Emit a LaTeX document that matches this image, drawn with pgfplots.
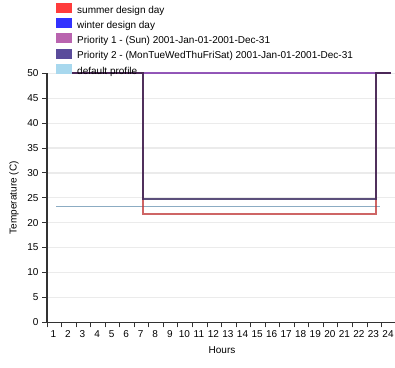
\documentclass[border=0pt]{standalone}
\usepackage{pgfplots}
\pgfplotsset{compat=1.18}
\usepackage{fontspec}
\setmainfont{Liberation Sans}

\definecolor{legred}{RGB}{255,60,60}
\definecolor{legblue}{RGB}{50,50,255}
\definecolor{legpink}{RGB}{185,100,175}
\definecolor{legdark}{RGB}{90,75,155}
\definecolor{leglight}{RGB}{168,216,238}
\definecolor{linered}{RGB}{190,50,50}
\definecolor{lineblue}{RGB}{30,30,200}
\definecolor{linepink}{RGB}{160,60,160}
\definecolor{linedark}{RGB}{50,35,90}
\definecolor{linelight}{RGB}{140,172,195}
\definecolor{gridgray}{RGB}{235,235,235}
\definecolor{axisgray}{RGB}{50,50,50}

\begin{document}
\begin{tikzpicture}
\path[use as bounding box] (0,0) rectangle (395pt,367pt);
\begin{axis}[
    at={(47pt,44.7pt)}, anchor=south west,
    scale only axis,
    width=348pt, height=249pt,
    xmin=0.38, xmax=24.3,
    ymin=0, ymax=50,
    axis x line=bottom, axis y line=left,
    axis line style={-, axisgray, line width=1.3pt},
    xtick={0.38,1.38,...,23.38},
    xticklabels={1,2,3,4,5,6,7,8,9,10,11,12,13,14,15,16,17,18,19,20,21,22,23,24},
    xticklabel style={xshift=6.4pt},
    ytick={0,5,...,50},
    tick align=outside,
    major tick length=5pt,
    tick style={axisgray, line width=1pt},
    ymajorgrids,
    grid style={gridgray, line width=1.2pt},
    ticklabel style={font=\fontsize{10}{12}\selectfont},
    /pgf/number format/assume math mode=true,
    xlabel={Hours},
    ylabel={Temperature (C)},
    label style={font=\fontsize{10}{12}\selectfont},
    xlabel style={at={(axis description cs:0.503,0)}, anchor=center, yshift=-28pt},
    ylabel style={at={(axis description cs:-0.095,0.5)}, anchor=center},
    legend style={at={(axis description cs:0.026,1.2835)}, anchor=north west,
        draw=none, fill=none, inner sep=0pt, row sep=0pt,
        font=\fontsize{10}{12}\selectfont,
        nodes={inner sep=0pt, text height=8.5pt, text depth=5pt},
        /tikz/every odd column/.append style={column sep=5pt}},
    legend cell align=left,
    legend image code/.code={\fill[#1, draw=none] (0pt,-1.5pt) rectangle (16pt,8.5pt);},
    clip=false,
]
% legend entries
\addlegendimage{fill=legred}
\addlegendentry{summer design day}
\addlegendimage{fill=legblue}
\addlegendentry{winter design day}
\addlegendimage{fill=legpink}
\addlegendentry{Priority 1 - (Sun) 2001-Jan-01-2001-Dec-31}
\addlegendimage{fill=legdark}
\addlegendentry{Priority 2 - (MonTueWedThuFriSat) 2001-Jan-01-2001-Dec-31}
\addlegendimage{fill=leglight}
\addlegendentry{default profile}

% default profile
\addplot[forget plot, linelight, line width=1pt] coordinates {(1,23.35) (23.3,23.35)};
% winter design day
\addplot[forget plot, lineblue, opacity=0.55, line width=2pt] coordinates {(1,50) (24,50)};
% priority 1 (Sun)
\addplot[forget plot, linepink, opacity=0.6, line width=2pt] coordinates {(1,50) (24,50)};
% summer design day
\addplot[forget plot, linered, opacity=0.75, line width=2pt] coordinates {
    (1,50) (7,50) (7,21.7) (23,21.7) (23,50) (24,50)};
% priority 2
\addplot[forget plot, linedark, opacity=0.8, line width=2pt] coordinates {
    (1,50) (7,50) (7,24.7) (23,24.7) (23,50) (24,50)};
\end{axis}
\end{tikzpicture}
\end{document}
